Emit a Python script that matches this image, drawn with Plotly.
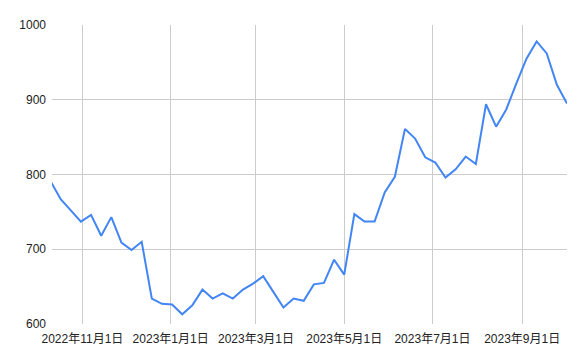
import pandas as pd
import plotly.graph_objects as go

start_date = "2022-10-10"
n_weeks = 52
dates = pd.date_range(start_date, periods=n_weeks, freq="7D")
values = [791, 767, 752, 737, 746, 718, 743, 709, 699, 710,
          634, 627, 626, 613, 625, 646, 634, 641, 634, 646,
          654, 664, 643, 622, 634, 631, 653, 655, 686, 666,
          747, 737, 737, 776, 797, 861, 848, 823, 816, 796,
          807, 824, 814, 894, 864, 887, 922, 955, 978, 962,
          920, 895]
y_ticks = [600, 700, 800, 900, 1000]

fig = go.Figure()
fig.add_trace(go.Scatter(x=dates, y=values, mode="lines",
                         line=dict(color="#4285F4", width=2), hoverinfo="skip"))

font = dict(family="Arial, 'Liberation Sans', 'Noto Sans CJK JP', sans-serif", size=12, color="#222222")
fig.update_layout(
    width=586, height=363,
    margin=dict(l=52, r=19, t=25, b=39),
    paper_bgcolor="white", plot_bgcolor="white",
    showlegend=False, font=font,
)
fig.update_xaxes(
    range=["2022-10-11", "2023-10-02"],
    tick0="2022-11-01", dtick="M2", tickformat="%Y年%-m月%-d日",
    showgrid=True, gridcolor="#cccccc", gridwidth=1,
    showline=False, zeroline=False, ticks="", tickfont=font,
    ticklabelstandoff=6,
)
fig.update_yaxes(
    range=[600, 1000], tickvals=y_ticks,
    showgrid=True, gridcolor="#cccccc", gridwidth=1,
    showline=False, zeroline=False, ticks="", tickfont=font,
    ticklabelstandoff=5,
)
fig.write_html("out.html")
